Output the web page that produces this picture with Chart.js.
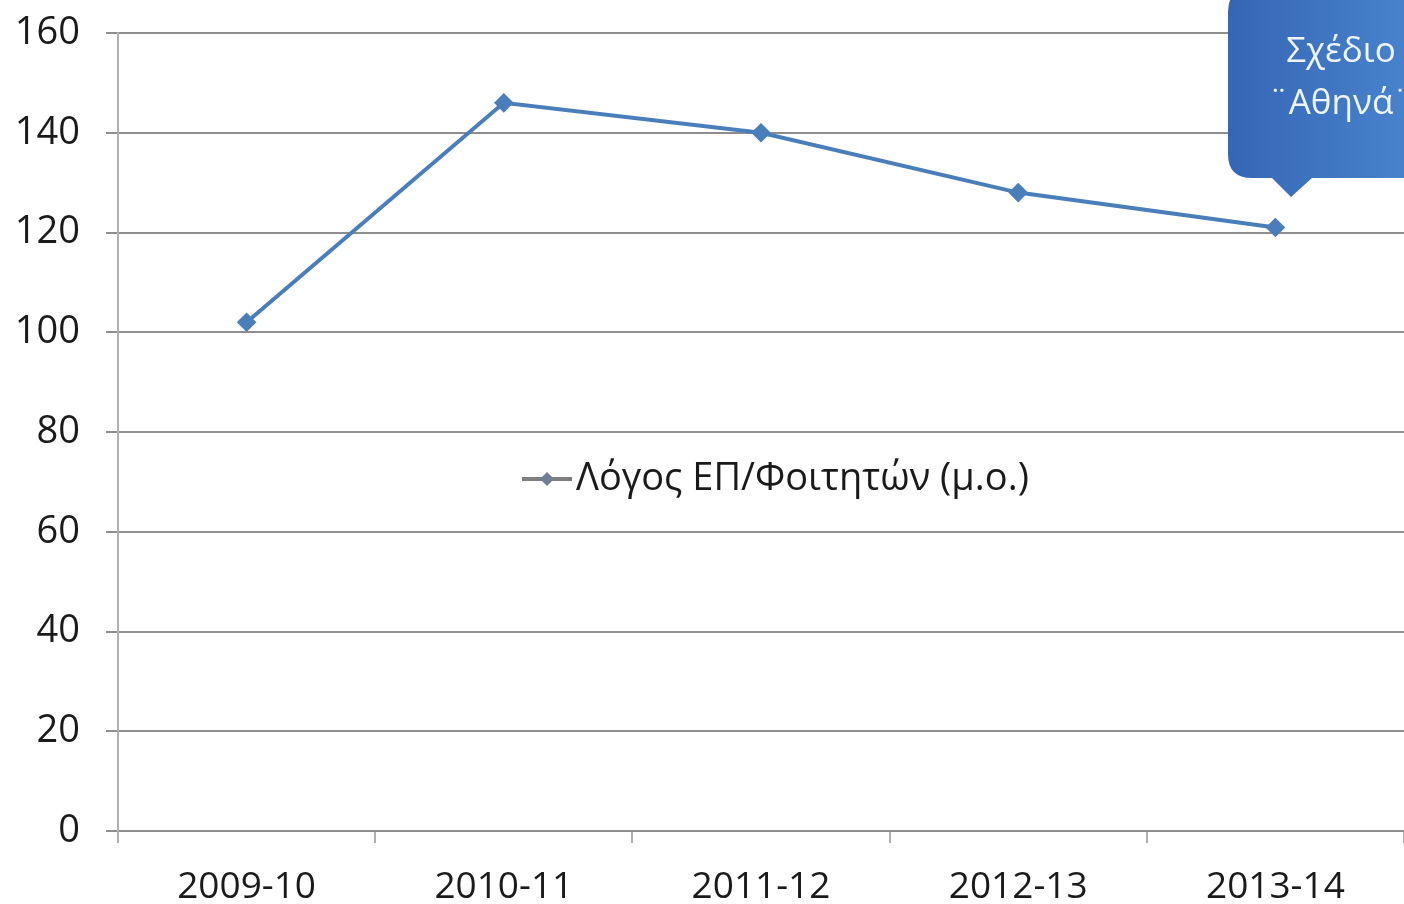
<!DOCTYPE html>
<html lang="el">
<head>
  <meta charset="UTF-8" />
  <title>Λόγος ΕΠ/Φοιτητών</title>
  <script src="https://cdn.jsdelivr.net/npm/chart.js"></script>
  <style>
    html, body {
      margin: 0;
      padding: 0;
      background: #fff;
      overflow: hidden;
    }
    canvas { display: block; }
  </style>
</head>
<body>
  <canvas id="chart" width="1404" height="904"></canvas>

  <script>
    const years = ['2009-10', '2010-11', '2011-12', '2012-13', '2013-14'];
    const ratio = [102, 146, 140, 128, 121];
    const seriesLabel = 'Λόγος ΕΠ/Φοιτητών (μ.ο.)';
    const calloutLines = ['Σχέδιο', '¨Αθηνά¨'];

    const FONT = '"Open Sans", "DejaVu Sans", sans-serif';
    const BLUE = '#4a7ebb';
    const GRID = '#8e8e8e';

    // legend sits inside the plot, drawn by hand
    const legendInPlot = {
      id: 'legendInPlot',
      afterDraw(chart) {
        const c = chart.ctx;
        const y = 479;
        c.save();
        c.strokeStyle = '#7f7f7f';
        c.lineWidth = 4;
        c.beginPath();
        c.moveTo(522, y);
        c.lineTo(572, y);
        c.stroke();
        c.fillStyle = '#6f7f95';
        c.beginPath();
        c.moveTo(547, y - 7);
        c.lineTo(554, y);
        c.lineTo(547, y + 7);
        c.lineTo(540, y);
        c.closePath();
        c.fill();
        c.fillStyle = '#1a1a1a';
        c.font = '38px ' + FONT;
        c.textBaseline = 'middle';
        c.fillText(chart.data.datasets[0].label, 576, y);
        c.restore();
      }
    };

    // the blue speech bubble at the top right
    const callout = {
      id: 'callout',
      afterDraw(chart) {
        const c = chart.ctx;
        const x0 = 1228, y0 = -12, x1 = 1430, y1 = 178, r = 24;
        c.save();
        const g = c.createLinearGradient(x0, 0, x1, 0);
        g.addColorStop(0, '#3566b5');
        g.addColorStop(1, '#4a86d0');
        c.fillStyle = g;
        c.beginPath();
        c.moveTo(x0 + r, y0);
        c.lineTo(x1, y0);
        c.lineTo(x1, y1);
        c.lineTo(1312, y1);
        c.lineTo(1291, 197);
        c.lineTo(1272, y1);
        c.lineTo(x0 + r, y1);
        c.quadraticCurveTo(x0, y1, x0, y1 - r);
        c.lineTo(x0, y0 + r);
        c.quadraticCurveTo(x0, y0, x0 + r, y0);
        c.closePath();
        c.fill();
        c.fillStyle = '#eef4fb';
        c.font = '35px ' + FONT;
        c.textAlign = 'center';
        c.textBaseline = 'middle';
        c.fillText(calloutLines[0], 1341, 52);
        c.fillText(calloutLines[1], 1341, 104);
        c.restore();
      }
    };

    new Chart(document.getElementById('chart'), {
      type: 'line',
      data: {
        labels: years,
        datasets: [{
          label: seriesLabel,
          data: ratio,
          borderColor: BLUE,
          borderWidth: 4,
          backgroundColor: BLUE,
          pointStyle: 'rectRot',
          pointRadius: 7,
          pointHoverRadius: 7,
          tension: 0
        }]
      },
      options: {
        responsive: false,
        animation: false,
        // plot runs a few px past the right edge, as in the source image
        layout: { autoPadding: false, padding: { top: 33, left: 0, right: -4, bottom: 0 } },
        plugins: {
          legend: { display: false },
          tooltip: { enabled: false }
        },
        scales: {
          x: {
            offset: true,
            grid: {
              offset: true,
              drawOnChartArea: false,
              drawTicks: true,
              tickLength: 12,
              color: '#b0b0b0',
              lineWidth: 2
            },
            border: { color: GRID, width: 2 },
            ticks: {
              color: '#1a1a1a',
              font: { family: FONT, size: 37 },
              padding: 22,
              maxRotation: 0
            },
            afterFit(scale) {
              scale.height = 73;
              scale.paddingLeft = 0;
              scale.paddingRight = 0;
            }
          },
          y: {
            min: 0,
            max: 160,
            ticks: {
              stepSize: 20,
              color: '#1a1a1a',
              font: { family: FONT, size: 38 },
              padding: 26
            },
            grid: {
              color: GRID,
              lineWidth: 2,
              tickLength: 12
            },
            border: { color: '#b0b0b0', width: 2 },
            afterFit(scale) {
              scale.width = 118;
              scale.paddingTop = 0;
              scale.paddingBottom = 0;
            }
          }
        }
      },
      plugins: [legendInPlot, callout]
    });
  </script>
</body>
</html>
